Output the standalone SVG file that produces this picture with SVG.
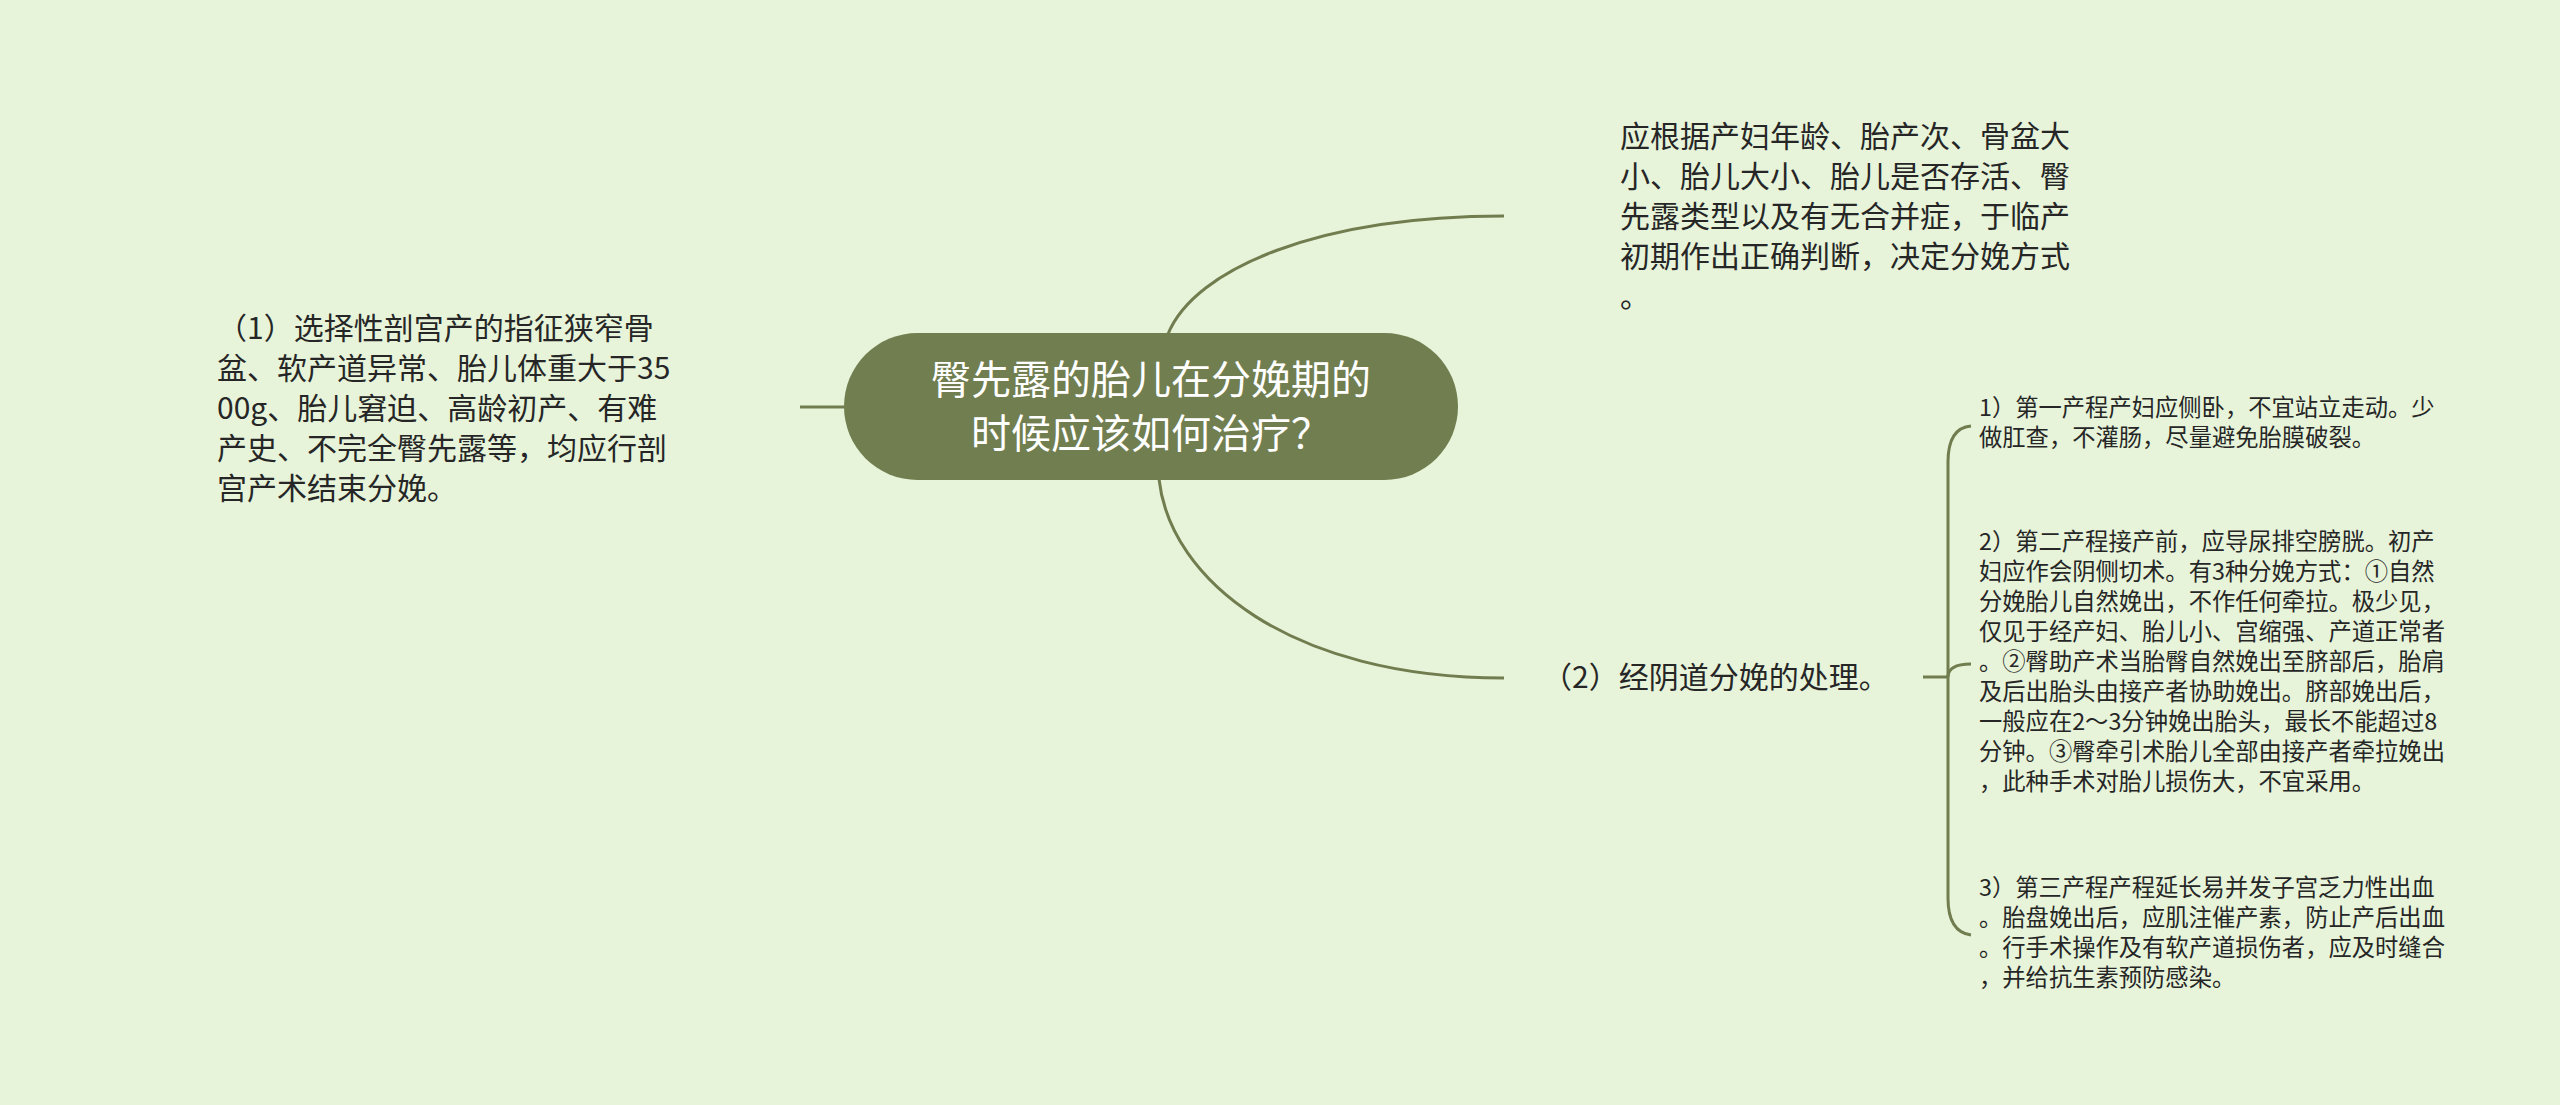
<svg xmlns="http://www.w3.org/2000/svg" width="2560" height="1105" viewBox="0 0 2560 1105">
<style>
.bg{fill:#e7f4da}
.conn{fill:none;stroke:#717d4f;stroke-width:3;stroke-linecap:butt}
.t{font-family:"Noto Sans CJK SC","Noto Sans",sans-serif;fill:#262626}
.t30{font-size:30px}
.t23{font-size:23.3px}
.root{fill:#717e50}
.rt{font-family:"Noto Sans CJK SC","Noto Sans",sans-serif;font-size:40px;fill:#ffffff;text-anchor:middle}
</style>
<rect class="bg" x="0" y="0" width="2560" height="1105"/>
<g id="connectors">
<path class="conn" d="M800,407 L846,407"/>
<path class="conn" d="M1168,334 C1195,268 1320,216 1504,216"/>
<path class="conn" d="M1159,479 C1170,580 1290,678 1504,678"/>
<path class="conn" d="M1923,677 L1948,677"/>
<path class="conn" d="M1948,677 L1948,462 Q1948,428 1971,426"/>
<path class="conn" d="M1948,677 L1948,898 Q1948,932 1971,935"/>
<path class="conn" d="M1948,677 Q1948,664 1971,664"/>
</g>
<g id="root">
<rect class="root" x="844" y="333" width="614" height="147" rx="73.5" ry="73.5"/>
<text class="rt" x="1151" y="394">臀先露的胎儿在分娩期的</text>
<text class="rt" x="1151" y="448">时候应该如何治疗？</text>
</g>
<g id="node-left">
<text class="t t30" x="217" y="339">（1）选择性剖宫产的指征狭窄骨</text>
<text class="t t30" x="217" y="379">盆、软产道异常、胎儿体重大于35</text>
<text class="t t30" x="217" y="419">00g、胎儿窘迫、高龄初产、有难</text>
<text class="t t30" x="217" y="459">产史、不完全臀先露等，均应行剖</text>
<text class="t t30" x="217" y="499">宫产术结束分娩。</text>
</g>
<g id="node-top">
<text class="t t30" x="1620" y="147">应根据产妇年龄、胎产次、骨盆大</text>
<text class="t t30" x="1620" y="187">小、胎儿大小、胎儿是否存活、臀</text>
<text class="t t30" x="1620" y="227">先露类型以及有无合并症，于临产</text>
<text class="t t30" x="1620" y="267">初期作出正确判断，决定分娩方式</text>
<text class="t t30" x="1620" y="307">。</text>
</g>
<g id="node-vaginal">
<text class="t t30" x="1542" y="688">（2）经阴道分娩的处理。</text>
</g>
<g id="node-stage1">
<text class="t t23" x="1979" y="416">1）第一产程产妇应侧卧，不宜站立走动。少</text>
<text class="t t23" x="1979" y="446">做肛查，不灌肠，尽量避免胎膜破裂。</text>
</g>
<g id="node-stage2">
<text class="t t23" x="1979" y="550">2）第二产程接产前，应导尿排空膀胱。初产</text>
<text class="t t23" x="1979" y="580">妇应作会阴侧切术。有3种分娩方式：①自然</text>
<text class="t t23" x="1979" y="610">分娩胎儿自然娩出，不作任何牵拉。极少见，</text>
<text class="t t23" x="1979" y="640">仅见于经产妇、胎儿小、宫缩强、产道正常者</text>
<text class="t t23" x="1979" y="670">。②臀助产术当胎臀自然娩出至脐部后，胎肩</text>
<text class="t t23" x="1979" y="700">及后出胎头由接产者协助娩出。脐部娩出后，</text>
<text class="t t23" x="1979" y="730">一般应在2～3分钟娩出胎头，最长不能超过8</text>
<text class="t t23" x="1979" y="760">分钟。③臀牵引术胎儿全部由接产者牵拉娩出</text>
<text class="t t23" x="1979" y="790">，此种手术对胎儿损伤大，不宜采用。</text>
</g>
<g id="node-stage3">
<text class="t t23" x="1979" y="896">3）第三产程产程延长易并发子宫乏力性出血</text>
<text class="t t23" x="1979" y="926">。胎盘娩出后，应肌注催产素，防止产后出血</text>
<text class="t t23" x="1979" y="956">。行手术操作及有软产道损伤者，应及时缝合</text>
<text class="t t23" x="1979" y="986">，并给抗生素预防感染。</text>
</g>
</svg>
